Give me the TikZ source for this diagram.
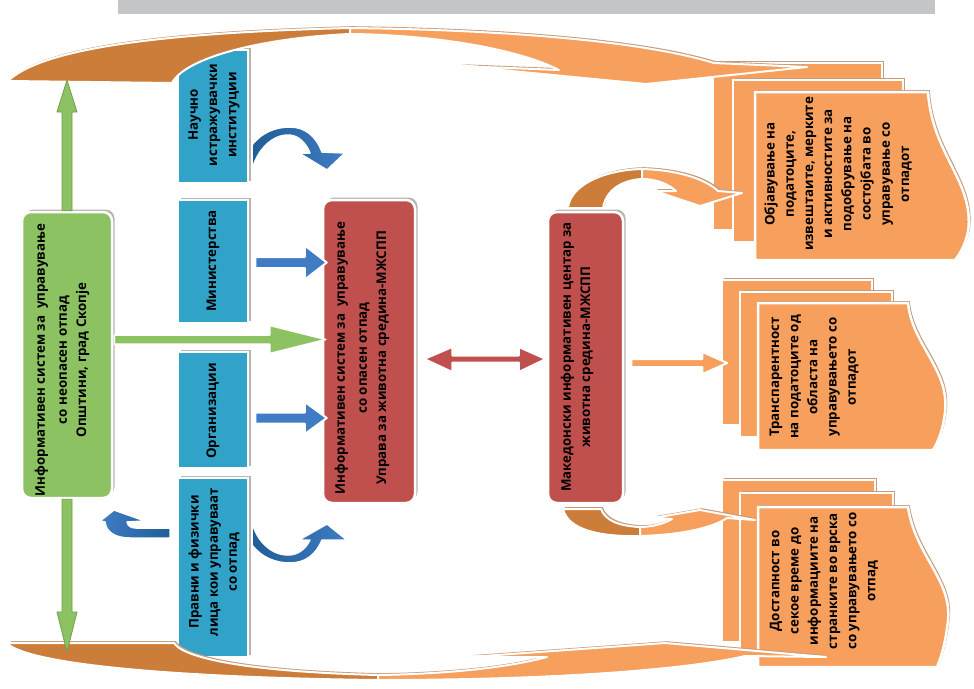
\documentclass[tikz,border=0pt]{standalone}
\usepackage{fontspec}
\setmainfont{Open Sans}
\usetikzlibrary{calc,shadows}
\definecolor{lorange}{HTML}{F79F5C}
\definecolor{dorange}{HTML}{CC7D39}
\definecolor{redbox}{HTML}{C0504D}
\definecolor{bluebox}{HTML}{31A3C8}
\definecolor{greenbox}{HTML}{8DC262}
\definecolor{bluearrow}{HTML}{3F7CC3}
\definecolor{darkblue}{HTML}{1F5E97}
\definecolor{shadowgray}{HTML}{B8B4B0}
\definecolor{tanline}{HTML}{C69C7C}
\definecolor{graybar}{HTML}{C4C5C7}
\definecolor{gline}{HTML}{6E9F48}
\tikzset{
  txt/.style={rotate=90, align=center, inner sep=0pt, font=\fontsize{13.3}{19.2}\selectfont\bfseries},
  shad/.style={drop shadow={shadow xshift=2.5pt, shadow yshift=2.5pt, fill=shadowgray, opacity=1}},
  bbox/.style={shad, fill=bluebox, draw=white, line width=2.5pt, minimum width=70pt, inner sep=0pt},
  rbox/.style={shad, fill=redbox, draw=white, line width=2.5pt, rounded corners=9pt, inner sep=0pt},
  gbox/.style={shad, fill=greenbox, draw=white, line width=2.5pt, rounded corners=9pt, inner sep=0pt},
  halo/.style={draw=white, line width=2pt, line join=round},
  card/.style={fill=lorange, draw=white, line width=2.5pt},
  tshadow/.style={fill=tanline, xshift=1.8pt, yshift=1.8pt},
  garrow/.style={fill=greenbox, draw=gline, line width=0.8pt, line join=round},
}
\newcommand{\cardrect}[4]{%
  \fill[tanline] ({#1+1.8},{#2-1.8}) rectangle ({#3+1.8},{#4-1.8});
  \filldraw[card] (#1,#2) rectangle (#3,#4);}
% #1 style, #2 start, #3 tip, #4 shaft half, #5 head half, #6 head length
\newcommand{\rarrow}[6]{%
  \filldraw[#1] ($(#2)+(0,-#4)$) -- ($(#3)+(-#6,-#4)$) -- ($(#3)+(-#6,-#5)$) -- (#3)
    -- ($(#3)+(-#6,#5)$) -- ($(#3)+(-#6,#4)$) -- ($(#2)+(0,#4)$) -- cycle;}
\begin{document}
\begin{tikzpicture}[x=1pt,y=-1pt]
\useasboundingbox (0,0) rectangle (974,688);
\fill[white] (0,0) rectangle (974,688);
\fill[graybar] (118,0) rectangle (935,14);

% ---------- stacked cards ----------
\cardrect{713}{63}{882}{230}
\cardrect{733}{80}{903}{242}
\def\cardA{(755,92) -- (928,92) .. controls (932,155) and (975,182) .. (968,232) .. controls (965,245) and (960,254) .. (955,260) -- (755,260) -- cycle}
\fill[tshadow] \cardA;
\filldraw[card] \cardA;
\node[txt] (tA) at (838,174) {Објавување на\\податоците,\\извештаите, мерките\\и активностите за\\подобрување на\\состојбата во\\управување со\\отпадот};

\cardrect{722}{280}{872}{425}
\cardrect{740}{292}{892}{437}
\def\cardB{(758,303) -- (908,303) .. controls (912,345) and (950,370) .. (945,412) .. controls (943,430) and (938,442) .. (933,450) -- (758,450) -- cycle}
\fill[tshadow] \cardB;
\filldraw[card] \cardB;
\node[txt] (tB) at (814,377) {Транспарентност\\на податоците од\\областа на\\управувањето со\\отпадот};

\cardrect{722}{480}{875}{642}
\cardrect{740}{493}{893}{655}
\def\cardC{(758,507) -- (908,507) .. controls (915,555) and (952,580) .. (948,620) .. controls (946,640) and (942,655) .. (937,667) -- (758,667) -- cycle}
\fill[tshadow] \cardC;
\filldraw[card] \cardC;
\node[txt] (tC) at (824,581) {Достапност во\\секое време до\\информациите на\\странките во врска\\со управувањето со\\отпад};

% ---------- blue boxes ----------
\node[bbox, minimum height=133pt] (nauc) at (213,116.5) {};
\node[txt] (tnauc) at (214,115) {Научно\\истражувачки\\институции};
\node[bbox, minimum height=123pt] (mini) at (213,261.5) {};
\node[txt] (tmini) at (213,261) {Министерства};
\node[bbox, minimum height=116pt] (orga) at (213,410) {};
\node[txt] (torga) at (213,411) {Организации};
\node[bbox, minimum height=179pt] (prav) at (213,567.5) {};
\node[txt] (tprav) at (214,562) {Правни и физички\\лица кои управуваат\\со отпад};

% ---------- main boxes ----------
\node[gbox, minimum width=90pt, minimum height=286pt] (green) at (67,355) {};
\node[txt] (tgreen) at (62,360) {Информативен систем за\ \ управување\\[3pt]со неопасен отпад\\Општини, град Скопје};
\node[rbox, minimum width=92pt, minimum height=303pt] (red) at (369,351.5) {};
\node[txt] (tred) at (362,358) {Информативен систем за\ \ управување\\[3pt]со опасен отпад\\Управа за животна средина-МЖСПП};
\node[rbox, minimum width=75pt, minimum height=291pt] (mic) at (585.5,357.5) {};
\node[txt] (tmic) at (577,357) {Македонски информативен центар за\\животна средина-МЖСПП};

% ---------- straight block arrows ----------
\coordinate (m1) at ($(mini.east)+(6,1)$);
\coordinate (m2) at ($(mini.east -| red.west)+(5,1)$);
\rarrow{bluearrow, halo}{m1}{m2}{5.5}{17}{22}
\coordinate (o1) at ($(orga.east)+(6,8)$);
\coordinate (o2) at ($(orga.east -| red.west)+(5,8)$);
\rarrow{bluearrow, halo}{o1}{o2}{5.5}{16}{22}
\coordinate (g1) at ($(green.east)+(1,-15.5)$);
\coordinate (g2) at ($(green.east -| red.west)+(4,-15.5)$);
\rarrow{fill=greenbox, draw=white, line width=1.5pt, line join=round}{g1}{g2}{4.5}{14}{56}
\coordinate (q1) at ($(mic.east)+(7,5.5)$);
\coordinate (q2) at ($(mic.east)+(103,5.5)$);
\rarrow{fill=lorange, halo}{q1}{q2}{4}{11}{25}
% double red arrow
\coordinate (d1) at ($(red.east)+(8,7.5)$);
\coordinate (d2) at ($(mic.west)+(-1,1.5)$);
\filldraw[fill=redbox, halo] (d1) -- ($(d1)+(28,-12)$) -- ($(d1)+(28,-3.5)$) -- ($(d2)+(-27,-3.5)$) -- ($(d2)+(-27,-12)$) -- (d2)
  -- ($(d2)+(-27,13)$) -- ($(d2)+(-27,3.5)$) -- ($(d1)+(28,3.5)$) -- ($(d1)+(28,13)$) -- cycle;

% ---------- small curved blue arrows ----------
\shade[left color=darkblue, right color=bluearrow, draw=white, line width=1.5pt, line join=round]
  (252,145) .. controls (262,132) and (276,127) .. (290,127) .. controls (305,127) and (316,136) .. (322,152)
  -- (345,153) -- (327,170) -- (299,153) -- (310,153) .. controls (305,141) and (297,135) .. (288,135)
  .. controls (272,135) and (257,150) .. (252,170) -- cycle;
\shade[left color=darkblue, right color=bluearrow, draw=white, line width=1.5pt, line join=round]
  (252,545) .. controls (262,558) and (276,563) .. (290,563) .. controls (305,563) and (316,555) .. (322,540)
  -- (347,540) -- (327,524) -- (299,540) -- (310,540) .. controls (305,550) and (297,555) .. (288,555)
  .. controls (272,555) and (257,542) .. (252,522) -- cycle;
\shade[left color=bluearrow, right color=darkblue, draw=white, line width=1.5pt, line join=round]
  (170,538) -- (130,538) .. controls (115,538) and (106,532) .. (105,522) -- (100,521) -- (114,510)
  -- (145,521) -- (127,522) .. controls (128,526) and (131,528) .. (136,528) -- (170,528) -- cycle;

% ---------- big orange arcs ----------
\def\topdark{(8,81) .. controls (40,50) and (150,33) .. (350,28) -- (350,34) .. controls (260,38) and (185,58) .. (172,83) -- cycle}
\def\toplight{(350,28) .. controls (520,30) and (650,43) .. (714,63) -- (807,67) -- (646,84) -- (460,66) -- (559,70) .. controls (520,50) and (440,35) .. (350,34) -- cycle}
\def\botdark{(9,643) -- (174,643) .. controls (185,660) and (260,672) .. (378,675) -- (378,680) .. controls (200,678) and (40,667) .. (9,645) -- cycle}
\def\botlight{(378,675) .. controls (450,674) and (510,667) .. (547,657) -- (469,657) -- (665,643) -- (826,657) -- (745,656) .. controls (690,669) and (560,680) .. (378,680) -- cycle}
\fill[tshadow] \topdark; \fill[tshadow] \toplight;
\filldraw[fill=dorange, halo] \topdark;
\filldraw[fill=lorange, halo] \toplight;
\fill[tshadow] \botdark; \fill[tshadow] \botlight;
\filldraw[fill=dorange, halo] \botdark;
\filldraw[fill=lorange, halo] \botlight;

% ---------- MIC curved arrows ----------
\def\micTdark{(568,208) .. controls (570,186) and (602,170) .. (642,169) -- (642,179) .. controls (622,180) and (606,190) .. (603,208) -- cycle}
\def\micTlight{(642,169) .. controls (676,170) and (704,178) .. (718,191) -- (742,193) -- (700,206) -- (655,191) -- (676,191) .. controls (668,184) and (657,179) .. (642,179) -- cycle}
\def\micBdark{(563,509) -- (601,509) .. controls (605,520) and (618,526) .. (640,527) -- (640,536) .. controls (600,537) and (568,530) .. (563,509) -- cycle}
\def\micBlight{(640,527) .. controls (652,527) and (663,524) .. (672,519) -- (653,518) -- (700,510) -- (755,520) -- (727,518) .. controls (712,528) and (680,535) .. (640,536) -- cycle}
\fill[tshadow] \micTdark; \fill[tshadow] \micTlight;
\filldraw[fill=dorange, halo] \micTdark;
\filldraw[fill=lorange, halo] \micTlight;
\fill[tshadow] \micBdark; \fill[tshadow] \micBlight;
\filldraw[fill=dorange, halo] \micBdark;
\filldraw[fill=lorange, halo] \micBlight;

% ---------- green vertical arrows ----------
\coordinate (gtop) at (67,80);
\coordinate (gbot) at (67,652);
\filldraw[garrow] ($(green.north)+(-5,0)$) -- (62,112) -- (57,112) -- (gtop) -- (77,112) -- (72,112) -- ($(green.north)+(5,0)$) -- cycle;
\filldraw[garrow] ($(green.south)+(-5,0)$) -- (62,612) -- (57,612) -- (gbot) -- (77,612) -- (72,612) -- ($(green.south)+(5,0)$) -- cycle;
\end{tikzpicture}
\end{document}
